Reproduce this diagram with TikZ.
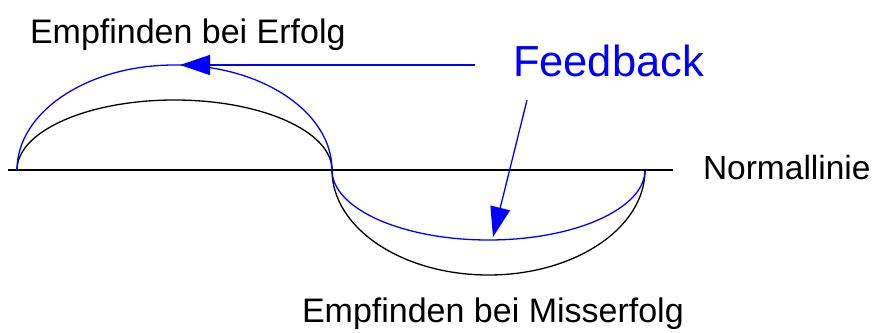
\documentclass[tikz,border=0pt]{standalone}
\usepackage{fontspec}
\setmainfont{Liberation Sans}
\usetikzlibrary{arrows.meta}
\definecolor{fbblue}{RGB}{0,0,255}
\tikzset{
  lbl/.style={anchor=base west, inner sep=0pt, outer sep=0pt},
  curveblk/.style={draw=black, line width=1.3pt},
  curveblu/.style={draw=fbblue, line width=1.3pt},
  fbarrow/.style={draw=fbblue, line width=1.3pt, -{Triangle[length=30pt,width=20pt]}}
}
\begin{document}
\begin{tikzpicture}[x=1pt,y=1pt]
\useasboundingbox (0,0) rectangle (874,332);
% normal line
\coordinate (lineL) at (8,162);
\coordinate (lineR) at (673,162);
\draw[black, line width=1.3pt] (lineL) -- (lineR);
% upper arcs
\draw[curveblk] (17,162) arc[start angle=180, end angle=0, x radius=157.5, y radius=70];
\draw[curveblu] (17,162) arc[start angle=180, end angle=0, x radius=157.5, y radius=105];
% lower arcs
\draw[curveblk] (332,162) arc[start angle=180, end angle=360, x radius=156.5, y radius=105];
\draw[curveblu] (332,162) arc[start angle=180, end angle=360, x radius=156.5, y radius=70];
% texts
\node[lbl] (erfolg) at (30,288) {\fontsize{34}{40}\selectfont Empfinden bei Erfolg};
\node[lbl, text=fbblue] (feedback) at (513,255) {\fontsize{43.5}{48}\selectfont Feedback};
\node[lbl] (misserfolg) at (302,10) {\fontsize{34}{40}\selectfont Empfinden bei Misserfolg};
\node[lbl] (normal) at (703,152) {\fontsize{33.5}{40}\selectfont Normallinie};
% feedback arrows
\coordinate (fbA) at (475,267);
\coordinate (tipA) at (180,267);
\coordinate (fbB) at (527,232);
\coordinate (tipB) at (493,95);
\draw[fbarrow] (fbA) -- (tipA);
\draw[fbarrow] (fbB) -- (tipB);
\end{tikzpicture}
\end{document}
